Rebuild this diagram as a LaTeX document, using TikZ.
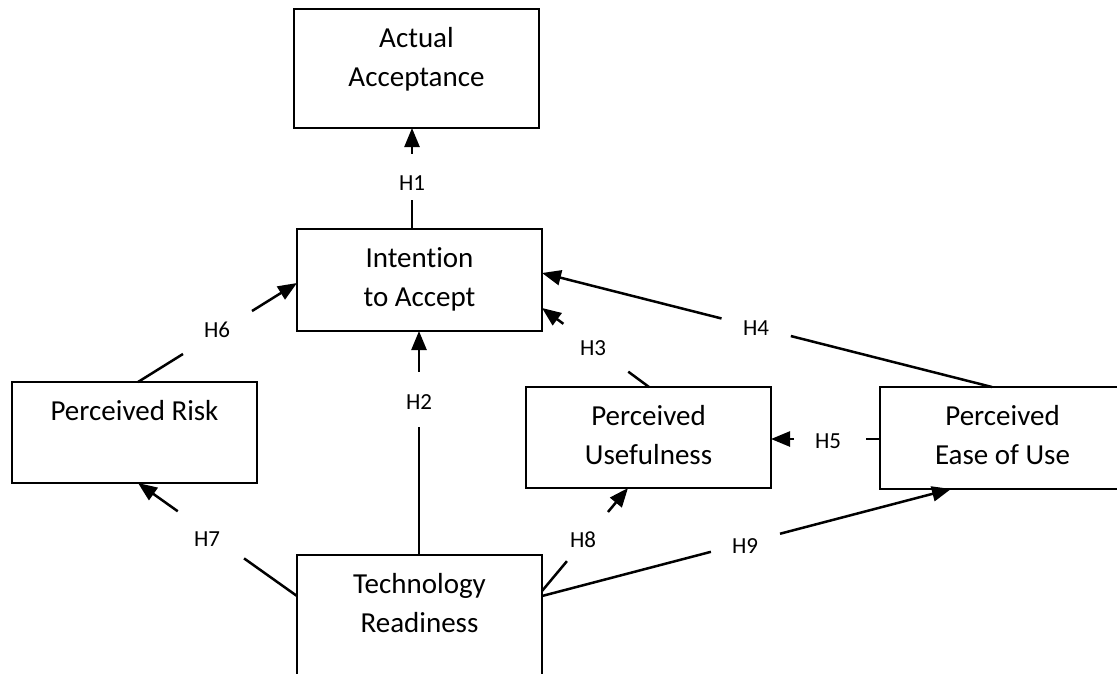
\documentclass[tikz,border=0pt]{standalone}
\usepackage{fontspec}
\setmainfont{Carlito}[Ligatures=NoCommon]
\usetikzlibrary{arrows.meta,calc}
% Box body: fixed height, text hung from the top edge
\newcommand\cellbody[2]{\parbox[c][#1pt][t]{245pt}{\centering\fontsize{29}{39}\selectfont\rule{0pt}{38pt}#2}}
\begin{document}
\begin{tikzpicture}[x=1pt,y=-1pt,
  box/.style={draw, line width=1.6pt, inner sep=0pt, outer sep=0pt, anchor=north west},
  hlabel/.style={font=\fontsize{23}{27}\selectfont, inner sep=0pt},
  link/.style={line width=2.5pt},
  arr/.style={line width=2.5pt, -{Triangle[length=19pt,width=15pt]}},
]
\useasboundingbox (0,0) rectangle (1117,673);
\fill[white] (0,0) rectangle (1117,673);
\clip (0,0) rectangle (1117,673);

% constructs
\node[box] (aa)   at (294,9)   {\cellbody{119}{Actual\\Acceptance}};
\node[box] (ita)  at (297,229) {\cellbody{102}{Intention\\to Accept}};
\node[box] (pr)   at (12,382)  {\cellbody{101}{Perceived Risk}};
\node[box] (pu)   at (526,387) {\cellbody{101}{Perceived\\Usefulness}};
\node[box] (peou) at (880,387) {\cellbody{102}{Perceived\\Ease of Use}};
\node[box] (tr)   at (297,555) {\cellbody{130}{Technology\\Readiness}};

% hypothesis labels
\node[hlabel] (h1) at (412,183) {H1};
\node[hlabel] (h2) at (419,402) {H2};
\node[hlabel] (h3) at (593,348) {H3};
\node[hlabel] (h4) at (756,328) {H4};
\node[hlabel] (h5) at (828,441) {H5};
\node[hlabel] (h6) at (217,330) {H6};
\node[hlabel] (h7) at (207,539) {H7};
\node[hlabel] (h8) at (583,540) {H8};
\node[hlabel] (h9) at (745,546) {H9};

% attachment points on the box borders
\coordinate (h1s) at ($(ita.north west)+(115,0)$);
\coordinate (h1e) at (h1s |- aa.south);
\coordinate (h2s) at ($(tr.north west)+(122,0)$);
\coordinate (h2e) at (h2s |- ita.south);
\coordinate (h3s) at ($(pu.north west)+(123,0)$);
\coordinate (h3e) at ($(ita.north east)+(0,79)$);
\coordinate (h4s) at ($(peou.north west)+(112,0)$);
\coordinate (h4e) at ($(ita.north east)+(0,44)$);
\coordinate (h5s) at ($(peou.north west)+(0,52)$);
\coordinate (h5e) at (h5s -| pu.east);
\coordinate (h6s) at ($(pr.north west)+(126,0)$);
\coordinate (h6e) at ($(ita.north west)+(0,54)$);
\coordinate (h7s) at ($(tr.north west)+(0,41)$);
\coordinate (h7e) at ($(pr.south west)+(126,0)$);
\coordinate (h8s) at ($(tr.north east)+(0,36)$);
\coordinate (h8e) at ($(pu.south west)+(102,0)$);
\coordinate (h9s) at ($(tr.north east)+(0,41)$);
\coordinate (h9e) at ($(peou.south west)+(71,0)$);

% connectors, broken where the label sits
\draw[link] (h1s) -- ($(h1s)!0.287!(h1e)$);
\draw[arr]  ($(h1s)!0.743!(h1e)$) -- (h1e);
\draw[link] (h2s) -- ($(h2s)!0.571!(h2e)$);
\draw[arr]  ($(h2s)!0.817!(h2e)$) -- (h2e);
\draw[link] (h3s) -- ($(h3s)!0.194!(h3e)$);
\draw[arr]  ($(h3s)!0.80!(h3e)$) -- (h3e);
\draw[link] (h4s) -- ($(h4s)!0.447!(h4e)$);
\draw[arr]  ($(h4s)!0.601!(h4e)$) -- (h4e);
\draw[link] (h5s) -- ($(h5s)!0.128!(h5e)$);
\draw[arr]  ($(h5s)!0.789!(h5e)$) -- (h5e);
\draw[link] (h6s) -- ($(h6s)!0.283!(h6e)$);
\draw[arr]  ($(h6s)!0.717!(h6e)$) -- (h6e);
\draw[link] (h7s) -- ($(h7s)!0.333!(h7e)$);
\draw[arr]  ($(h7s)!0.75!(h7e)$) -- (h7e);
\draw[link] (h8s) -- ($(h8s)!0.29!(h8e)$);
\draw[arr]  ($(h8s)!0.767!(h8e)$) -- (h8e);
\draw[link] (h9s) -- ($(h9s)!0.413!(h9e)$);
\draw[arr]  ($(h9s)!0.582!(h9e)$) -- (h9e);
\end{tikzpicture}
\end{document}
